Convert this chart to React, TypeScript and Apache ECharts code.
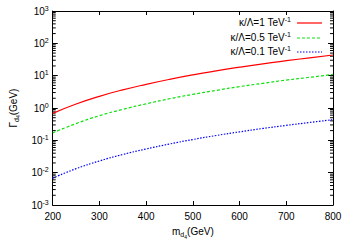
import React, { useEffect, useRef } from "react";
import * as echarts from "echarts";

const masses = [200, 250, 300, 350, 400, 450, 500, 550, 600, 650, 700, 750, 800];
const widthK1 = [0.68, 1.33, 2.3, 3.65, 5.4, 7.7, 10.6, 14.1, 18.3, 23.3, 29, 35.7, 43.5];
const widthK05 = [0.17, 0.33, 0.58, 0.91, 1.35, 1.93, 2.65, 3.5, 4.6, 5.8, 7.3, 8.9, 10.9];
const widthK01 = [0.0068, 0.0133, 0.023, 0.0365, 0.054, 0.077, 0.106, 0.141, 0.183, 0.233, 0.29, 0.357, 0.435];
const seriesNames = ["κ/Λ=1 TeV", "κ/Λ=0.5 TeV", "κ/Λ=0.1 TeV"];
const seriesColors = ["#ff0000", "#11e011", "#0000ff"];
const minorTickValues = [
  0.002, 0.003, 0.004, 0.005, 0.006, 0.007, 0.008, 0.009,
  0.02, 0.03, 0.04, 0.05, 0.06, 0.07, 0.08, 0.09,
  0.2, 0.3, 0.4, 0.5, 0.6, 0.7, 0.8, 0.9,
  2, 3, 4, 5, 6, 7, 8, 9,
  20, 30, 40, 50, 60, 70, 80, 90,
  200, 300, 400, 500, 600, 700, 800, 900,
];

const FONT = "Liberation Sans";

export default function App() {
  const ref = useRef<HTMLDivElement>(null);
  useEffect(() => {
    if (!ref.current) return;
    const chart = echarts.init(ref.current, null, { renderer: "svg" });
    const pair = (arr: number[]) => masses.map((m, i) => [m, arr[i]]);
    const supLabel = (v: number) => {
      const e = Math.round(Math.log10(v));
      return `{b|10}{s|${e}}`;
    };
    const rich = {
      b: { fontSize: 10, fontFamily: FONT, color: "#000" },
      s: { fontSize: 7, fontFamily: FONT, color: "#000", padding: [0, 0, 6, 0] },
    };
    const legendRich = {
      b: { fontSize: 10, fontFamily: FONT, color: "#000" },
      s: { fontSize: 7, fontFamily: FONT, color: "#000", padding: [0, 0, 6, 0] },
    };
    const lineTypes: any[] = ["solid", [3, 2], [1.5, 1.5]];
    const legendRowsY = [22, 37, 51];
    const legendGraphics: any[] = [];
    seriesNames.forEach((n, i) => {
      legendGraphics.push({
        type: "text",
        x: 291,
        y: legendRowsY[i],
        style: {
          text: `{b|${n}}{s|-1}`,
          rich: legendRich,
          align: "right",
          verticalAlign: "middle",
        },
      });
      legendGraphics.push({
        type: "line",
        shape: { x1: 297, y1: legendRowsY[i] + 1, x2: 322, y2: legendRowsY[i] + 1 },
        style: { stroke: seriesColors[i], lineWidth: 1.2, lineDash: lineTypes[i] === "solid" ? null : lineTypes[i] },
      });
    });
    const nameRich = {
      b: { fontSize: 10, fontFamily: FONT, color: "#000" },
      d: { fontSize: 7, fontFamily: FONT, color: "#000", padding: [6, 0, 0, 0] },
      dd: { fontSize: 5, fontFamily: FONT, color: "#000", padding: [10, 0, 0, 0] },
    };
    chart.setOption({
      animation: false,
      backgroundColor: "#fff",
      grid: { left: 44, right: 17, top: 11, bottom: 40 },
      graphic: legendGraphics,
      xAxis: [
        {
          type: "value",
          min: 200,
          max: 800,
          interval: 100,
          axisLine: { lineStyle: { color: "#000", width: 1 } },
          axisTick: { inside: true, length: 4, lineStyle: { color: "#000" } },
          axisLabel: { fontSize: 10, fontFamily: FONT, color: "#000", margin: 6 },
          splitLine: { show: false },
          name: "{b|m}{d|d}{dd|4}{b|(GeV)}",
          nameLocation: "middle",
          nameGap: 19,
          nameTextStyle: { rich: nameRich },
        },
        {
          type: "value",
          position: "top",
          min: 200,
          max: 800,
          interval: 100,
          axisLine: { lineStyle: { color: "#000", width: 1 } },
          axisTick: { inside: true, length: 4, lineStyle: { color: "#000" } },
          axisLabel: { show: false },
          splitLine: { show: false },
        },
      ],
      yAxis: [
        {
          type: "log",
          logBase: 10,
          min: 0.001,
          max: 1000,
          axisLine: { show: true, lineStyle: { color: "#000", width: 1 } },
          axisTick: { show: true, inside: true, length: 5, lineStyle: { color: "#000" } },
          axisLabel: { formatter: supLabel, rich, margin: 4 },
          splitLine: { show: false },
          name: "{b|Γ}{d|d}{dd|4}{b|(GeV)}",
          nameLocation: "middle",
          nameGap: 30,
          nameRotate: 90,
          nameTextStyle: { rich: nameRich },
        },
        {
          type: "log",
          logBase: 10,
          min: 0.001,
          max: 1000,
          position: "right",
          axisLine: { show: true, lineStyle: { color: "#000", width: 1 } },
          axisTick: { show: true, inside: true, length: 5, lineStyle: { color: "#000" } },
          axisLabel: { show: false },
          splitLine: { show: false },
        },
      ],
      series: [
        {
          name: seriesNames[0],
          type: "line",
          data: pair(widthK1),
          smooth: true,
          symbol: "none",
          lineStyle: { color: seriesColors[0], width: 1.2, type: lineTypes[0] },
        },
        {
          name: seriesNames[1],
          type: "line",
          data: pair(widthK05),
          smooth: true,
          symbol: "none",
          lineStyle: { color: seriesColors[1], width: 1.2, type: lineTypes[1] },
        },
        {
          name: seriesNames[2],
          type: "line",
          data: pair(widthK01),
          smooth: true,
          symbol: "none",
          lineStyle: { color: seriesColors[2], width: 1.2, type: lineTypes[2] },
        },
        {
          type: "custom",
          silent: true,
          data: minorTickValues.map((v) => [200, v]),
          renderItem: (params: any, api: any) => {
            const pt = api.coord([200, api.value(1)]);
            const cs = params.coordSys;
            const x0 = cs.x;
            const x1 = cs.x + cs.width;
            return {
              type: "group",
              children: [
                { type: "line", shape: { x1: x0, y1: pt[1], x2: x0 + 3, y2: pt[1] }, style: { stroke: "#000", lineWidth: 1 } },
                { type: "line", shape: { x1: x1, y1: pt[1], x2: x1 - 3, y2: pt[1] }, style: { stroke: "#000", lineWidth: 1 } },
              ],
            };
          },
        },
      ],
    });
    return () => chart.dispose();
  }, []);
  return <div ref={ref} style={{ width: 350, height: 245, position: "absolute", left: 0, top: 0 }} />;
}
